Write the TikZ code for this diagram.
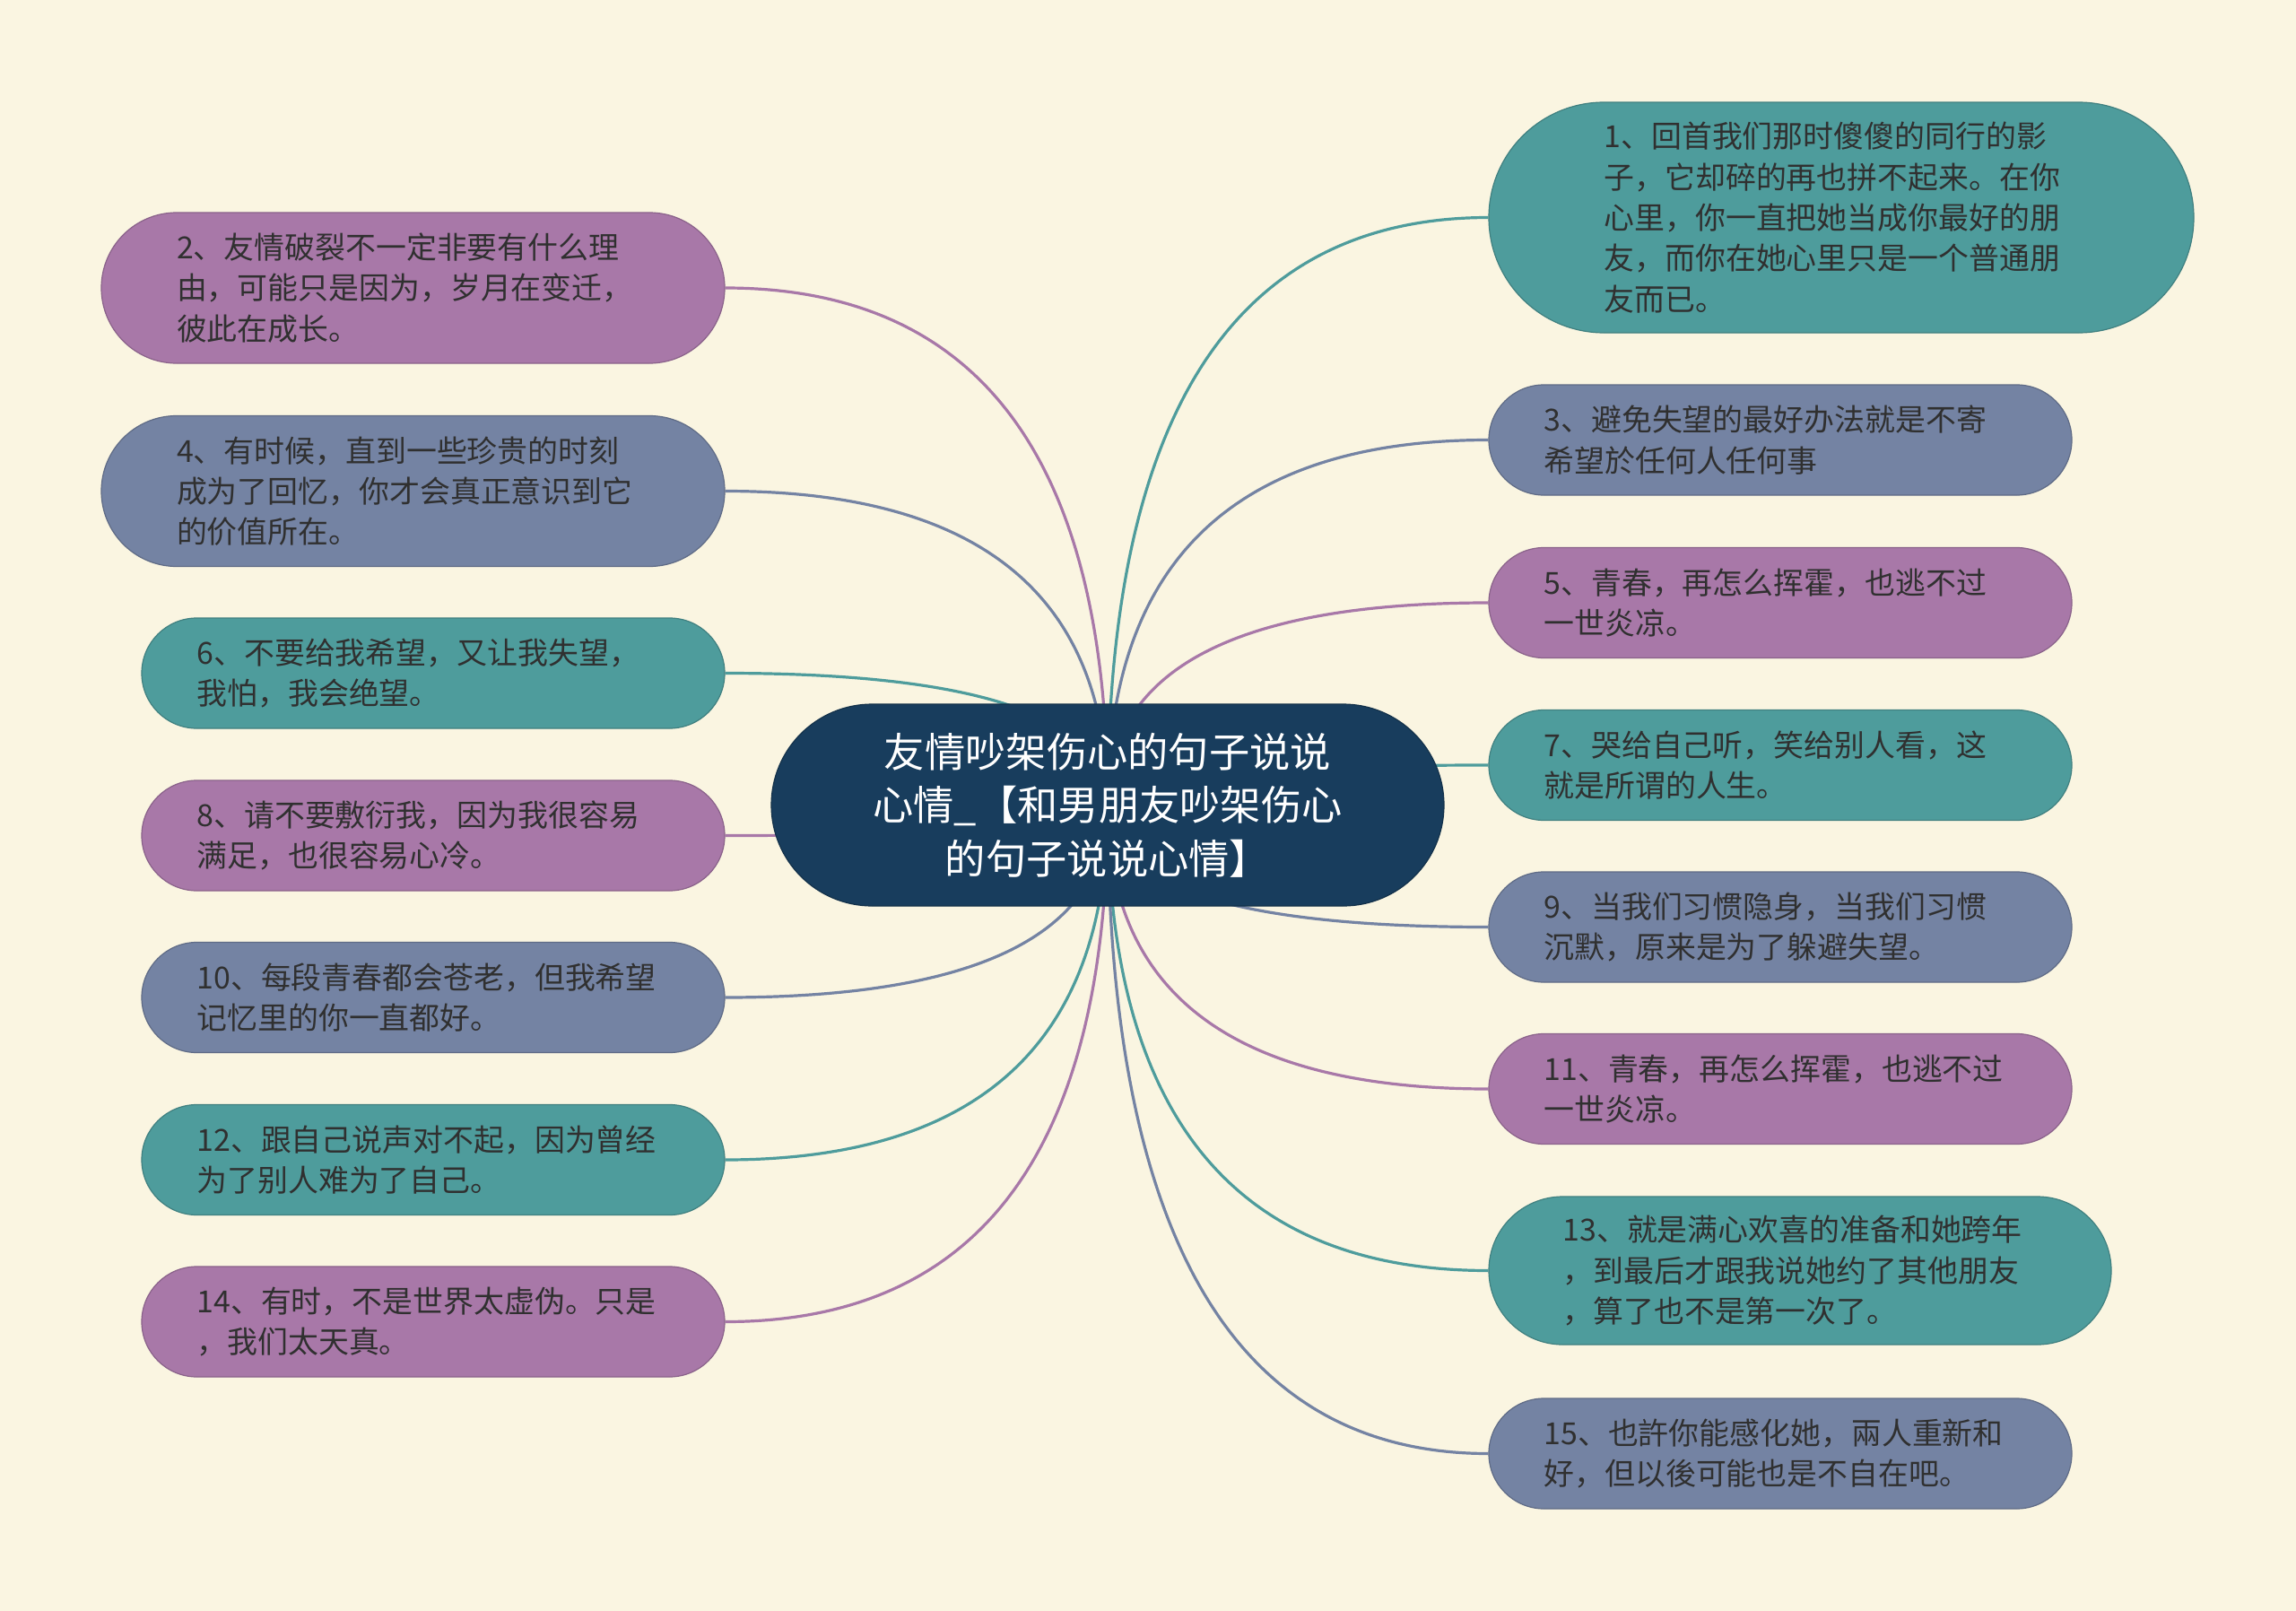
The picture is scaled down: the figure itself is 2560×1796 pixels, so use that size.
\documentclass[tikz,border=0pt]{standalone}
\usepackage{fontspec}
\setmainfont{Noto Sans CJK SC}
\usetikzlibrary{calc}
\definecolor{bgc}{HTML}{FAF5E1}
\definecolor{cteal}{HTML}{4E9C9C}
\definecolor{cpurp}{HTML}{A878A8}
\definecolor{cslate}{HTML}{7483A3}
\definecolor{ccent}{HTML}{183D5D}
\definecolor{ctext}{HTML}{303030}
\pgfdeclarelayer{bgl}
\pgfdeclarelayer{edgel}
\pgfsetlayers{bgl,edgel,main}
\begin{document}
\begin{tikzpicture}[x=1pt,y=-1pt,
  leafbase/.style={draw=#1!82!black, fill=#1, line width=1.2pt, text=ctext, align=left,
    inner ysep=0pt, font=\fontsize{33.9pt}{45.3pt}\selectfont},
  twoline/.style={minimum width=650pt, minimum height=123pt, rounded corners=61.5pt,
    inner xsep=61.5pt, text width=527pt},
  threeline/.style={minimum width=695pt, minimum height=168pt, rounded corners=84pt,
    inner xsep=84pt, text width=527pt},
  conn/.style={line width=3.2pt}
]
\useasboundingbox (0,0) rectangle (2560,1796);
\begin{pgfonlayer}{bgl}
\fill[bgc] (0,0) rectangle (2560,1796);
\end{pgfonlayer}

% central node
\node[fill=ccent, draw=ccent!80!black, line width=1.2pt, text=white, minimum width=750pt,
  minimum height=225pt, rounded corners=112.5pt, inner xsep=60pt, inner ysep=0pt,
  text width=630pt, align=center, font=\fontsize{45.3pt}{59.6pt}\selectfont]
  (c) at (1235,897.5) {友情吵架伤心的句子说说\\心情\_【和男朋友吵架伤心\\的句子说说心情】};

% right column
\node[leafbase=cteal, minimum width=786pt, minimum height=257pt, rounded corners=128.5pt,
  inner xsep=128.5pt, text width=529pt] (n1) at (2053,242.5)
  {1、回首我们那时傻傻的同行的影\\子，它却碎的再也拼不起来。在你\\心里，你一直把她当成你最好的朋\\友，而你在她心里只是一个普通朋\\友而已。};
\node[leafbase=cslate, twoline] (n3) at (1985,490.5) {3、避免失望的最好办法就是不寄\\希望於任何人任何事};
\node[leafbase=cpurp, twoline] (n5) at (1985,672) {5、青春，再怎么挥霍，也逃不过\\一世炎凉。};
\node[leafbase=cteal, twoline] (n7) at (1985,853) {7、哭给自己听，笑给别人看，这\\就是所谓的人生。};
\node[leafbase=cslate, twoline] (n9) at (1985,1033.5) {9、当我们习惯隐身，当我们习惯\\沉默，原来是为了躲避失望。};
\node[leafbase=cpurp, twoline] (n11) at (1985,1214) {11、青春，再怎么挥霍，也逃不过\\一世炎凉。};
\node[leafbase=cteal, minimum width=694pt, minimum height=165pt, rounded corners=82.5pt,
  inner xsep=82.5pt, text width=529pt] (n13) at (2007,1416.5)
  {13、就是满心欢喜的准备和她跨年\\，到最后才跟我说她约了其他朋友\\，算了也不是第一次了。};
\node[leafbase=cslate, twoline] (n15) at (1985,1620.5) {15、也許你能感化她，兩人重新和\\好，但以後可能也是不自在吧。};

% left column
\node[leafbase=cpurp, threeline] (n2) at (460.5,321) {2、友情破裂不一定非要有什么理\\由，可能只是因为，岁月在变迁，\\彼此在成长。};
\node[leafbase=cslate, threeline] (n4) at (460.5,547.5) {4、有时候，直到一些珍贵的时刻\\成为了回忆，你才会真正意识到它\\的价值所在。};
\node[leafbase=cteal, twoline] (n6) at (483,750.5) {6、不要给我希望，又让我失望，\\我怕，我会绝望。};
\node[leafbase=cpurp, twoline] (n8) at (483,931.5) {8、请不要敷衍我，因为我很容易\\满足，也很容易心冷。};
\node[leafbase=cslate, twoline] (n10) at (483,1112) {10、每段青春都会苍老，但我希望\\记忆里的你一直都好。};
\node[leafbase=cteal, twoline] (n12) at (483,1293) {12、跟自己说声对不起，因为曾经\\为了别人难为了自己。};
\node[leafbase=cpurp, twoline] (n14) at (483,1473.5) {14、有时，不是世界太虚伪。只是\\，我们太天真。};

% connectors
\begin{pgfonlayer}{edgel}
\foreach \n/\a/\col in {n1/west/cteal, n3/west/cslate, n5/west/cpurp, n7/west/cteal,
    n9/west/cslate, n11/west/cpurp, n13/west/cteal, n15/west/cslate,
    n2/east/cpurp, n4/east/cslate, n6/east/cteal, n8/east/cpurp,
    n10/east/cslate, n12/east/cteal, n14/east/cpurp}{
  \draw[conn, draw=\col] (c.center)
    .. controls ($(c.center)!0.6667!(c.center |- \n.\a)$)
    and ($(\n.\a)!0.6667!(c.center |- \n.\a)$) .. (\n.\a);
}
\end{pgfonlayer}
\end{tikzpicture}
\end{document}
